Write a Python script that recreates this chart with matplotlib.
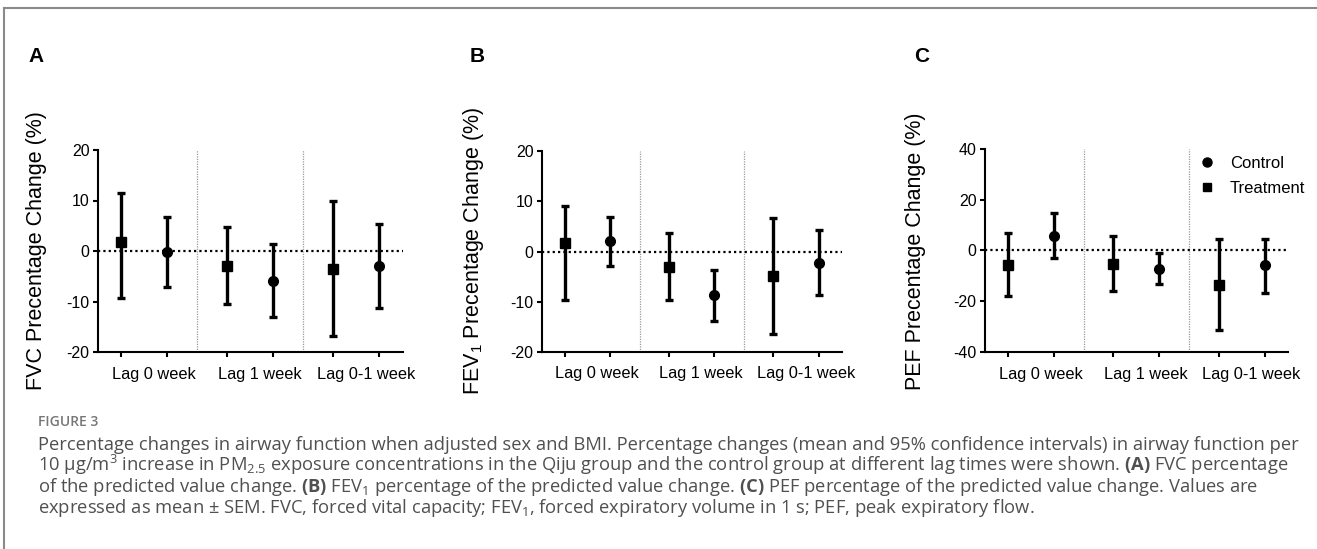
import matplotlib
matplotlib.use("Agg")
import matplotlib.pyplot as plt
from matplotlib.lines import Line2D
from matplotlib import transforms

plt.rcParams["font.family"] = ["Liberation Sans", "DejaVu Sans"]
plt.rcParams["mathtext.default"] = "regular"
plt.rcParams["mathtext.fontset"] = "custom"
plt.rcParams["mathtext.bf"] = "Open Sans:bold"
plt.rcParams["axes.unicode_minus"] = False

# ---- data ----
lags = ["Lag 0 week", "Lag 1 week", "Lag 0-1 week"]

fvc_treat_mean = [1.8, -3.0, -3.5]
fvc_treat_lo = [-9.3, -10.5, -16.8]
fvc_treat_hi = [11.5, 4.7, 9.9]
fvc_ctrl_mean = [-0.2, -5.9, -3.0]
fvc_ctrl_lo = [-7.2, -13.0, -11.3]
fvc_ctrl_hi = [6.8, 1.4, 5.4]

fev_treat_mean = [1.7, -3.1, -4.8]
fev_treat_lo = [-9.7, -9.7, -16.5]
fev_treat_hi = [9.0, 3.6, 6.7]
fev_ctrl_mean = [2.0, -8.7, -2.3]
fev_ctrl_lo = [-2.9, -13.8, -8.7]
fev_ctrl_hi = [6.8, -3.6, 4.2]

pef_treat_mean = [-5.7, -5.3, -13.4]
pef_treat_lo = [-17.9, -16.1, -31.3]
pef_treat_hi = [6.8, 5.8, 4.7]
pef_ctrl_mean = [5.9, -7.1, -5.9]
pef_ctrl_lo = [-2.9, -13.2, -16.6]
pef_ctrl_hi = [14.7, -0.9, 4.7]

W, H = 1317, 549
fig = plt.figure(figsize=(W / 100, H / 100), dpi=100)


def px_rect(l, t, r, b):
    return [l / W, 1 - b / H, (r - l) / W, (b - t) / H]


def draw_panel(rect, letter, letter_x, ylabel, ylabel_x, ylim, yticks,
               t_mean, t_lo, t_hi, c_mean, c_lo, c_hi, legend=False):
    ax = fig.add_axes(px_rect(*rect))
    gap = 2.3
    xt = [1 + i * gap for i in range(len(lags))]
    xc = [2 + i * gap for i in range(len(lags))]

    # separators and zero line
    for i in range(1, len(lags)):
        ax.axvline((xc[i - 1] + xt[i]) / 2, color="#9a9a9a", lw=0.9,
                   ls=(0, (1, 1)), zorder=1)
    ax.axhline(0, color="black", lw=1.6, ls=(0, (1, 1.4)), zorder=1)

    yerr_t = [[m - lo for m, lo in zip(t_mean, t_lo)],
              [hi - m for m, hi in zip(t_mean, t_hi)]]
    yerr_c = [[m - lo for m, lo in zip(c_mean, c_lo)],
              [hi - m for m, hi in zip(c_mean, c_hi)]]
    ax.errorbar(xt, t_mean, yerr=yerr_t, fmt="s", color="black", ms=7.2,
                elinewidth=2.4, capsize=3.2, capthick=2.4, zorder=3)
    ax.errorbar(xc, c_mean, yerr=yerr_c, fmt="o", color="black", ms=7,
                elinewidth=2.4, capsize=3.2, capthick=2.4, zorder=3)

    ax.set_xlim(0.5, 7.11)
    ax.set_ylim(*ylim)
    ax.set_yticks(yticks)
    ax.set_xticks(xt + xc)
    ax.set_xticklabels([])
    for s in ["top", "right"]:
        ax.spines[s].set_visible(False)
    for s in ["left", "bottom"]:
        ax.spines[s].set_linewidth(1.5)
    ax.tick_params(axis="both", length=3.8, width=1.5, labelsize=11.5,
                   pad=2.2, colors="black")

    trans = transforms.blended_transform_factory(ax.transData, ax.transAxes)
    for i, lab in enumerate(lags):
        ax.text((xt[i] + xc[i]) / 2 + 0.21, -0.072, lab, transform=trans,
                ha="center", va="top", fontsize=11.8)

    fig.text(ylabel_x / W, 1 - 251 / H, ylabel, rotation=90, ha="center",
             va="center", fontsize=15.5)
    fig.text(letter_x / W, 1 - 62 / H, letter, fontsize=15, weight="bold",
             va="baseline")

    if legend:
        handles = [Line2D([], [], marker="o", ls="none", color="black", ms=6.5),
                   Line2D([], [], marker="s", ls="none", color="black", ms=6)]
        fig.legend(handles, ["Control", "Treatment"], loc="upper left",
                   bbox_to_anchor=(1199 / W, 1 - 156 / H), frameon=False,
                   fontsize=12, handlelength=1.0, handletextpad=0.85,
                   labelspacing=0.62, borderpad=0, borderaxespad=0)
    return ax


draw_panel((98, 150, 403, 352), "A", 28, "FVC Precentage Change (%)", 37,
           (-20, 20), [-20, -10, 0, 10, 20],
           fvc_treat_mean, fvc_treat_lo, fvc_treat_hi,
           fvc_ctrl_mean, fvc_ctrl_lo, fvc_ctrl_hi)
draw_panel((542, 151, 842, 352), "B", 470, "FEV$_1$ Precentage Change (%)", 474,
           (-20, 20), [-20, -10, 0, 10, 20],
           fev_treat_mean, fev_treat_lo, fev_treat_hi,
           fev_ctrl_mean, fev_ctrl_lo, fev_ctrl_hi)
draw_panel((985, 149, 1288, 352), "C", 914, "PEF Precentage Change (%)", 915,
           (-40, 40), [-40, -20, 0, 20, 40],
           pef_treat_mean, pef_treat_lo, pef_treat_hi,
           pef_ctrl_mean, pef_ctrl_lo, pef_ctrl_hi, legend=True)

# frame lines (top and left)
fig.add_artist(Line2D([4 / W, 1], [1 - 7.5 / H, 1 - 7.5 / H], color="#8a8a8a", lw=1.5))
fig.add_artist(Line2D([4 / W, 4 / W], [0, 1 - 7.5 / H], color="#8a8a8a", lw=1.5))

# caption
fig.text(38 / W, 1 - 426 / H, "FIGURE 3", family="Open Sans", weight="semibold",
         color="#777777", fontsize=10, va="baseline")
caption = [
    "Percentage changes in airway function when adjusted sex and BMI. Percentage changes "
    "(mean and 95% confidence intervals) in airway function per",
    "10 μg/m$^3$ increase in PM$_{2.5}$ exposure concentrations in the Qiju group and the "
    "control group at different lag times were shown. $\\mathbf{(A)}$ FVC percentage",
    "of the predicted value change. $\\mathbf{(B)}$ FEV$_1$ percentage of the predicted value "
    "change. $\\mathbf{(C)}$ PEF percentage of the predicted value change. Values are",
    "expressed as mean ± SEM. FVC, forced vital capacity; FEV$_1$, forced expiratory "
    "volume in 1 s; PEF, peak expiratory flow.",
]
for i, line in enumerate(caption):
    fig.text(38 / W, 1 - (450 + 21 * i) / H, line, family="Open Sans",
             color="#505050", fontsize=13.2, va="baseline")

fig.savefig("out.png", dpi=100, facecolor="white")
